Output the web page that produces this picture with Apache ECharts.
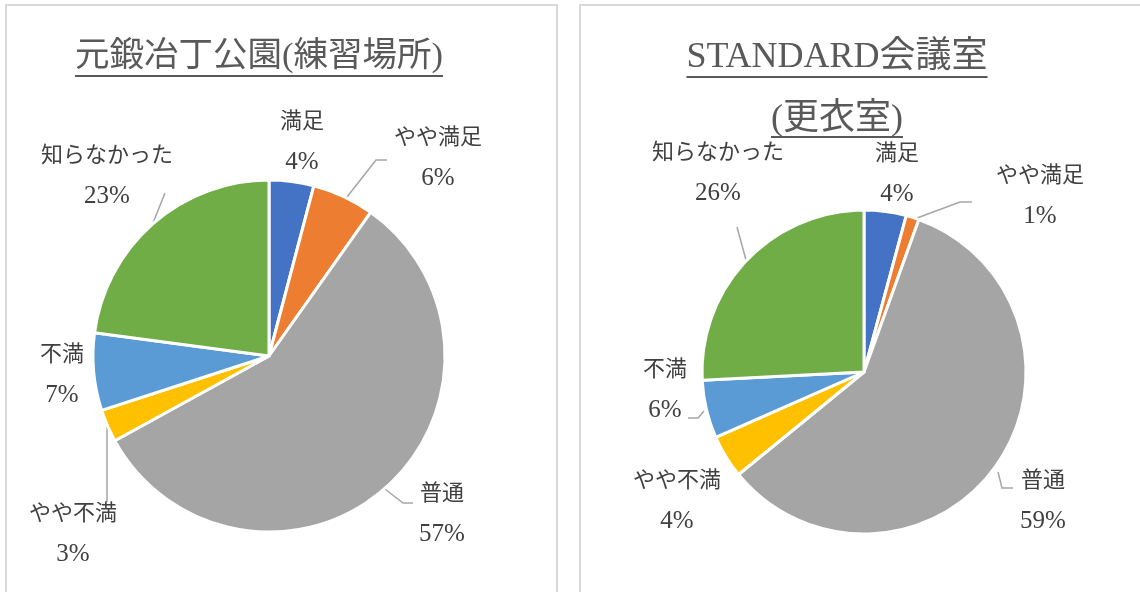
<!DOCTYPE html>
<html><head><meta charset="utf-8">
<script src="https://cdn.jsdelivr.net/npm/echarts@6/dist/echarts.min.js"></script>
<style>html,body{margin:0;padding:0;background:#fff}#c{width:1140px;height:592px}</style>
</head><body><div id="c"></div>
<script>
var categories = ['満足', 'やや満足', '普通', 'やや不満', '不満', '知らなかった'];
var leftValues = [4.1, 5.7, 57.2, 3.0, 7.1, 22.9];
var rightValues = [4.2, 1.3, 58.6, 4.3, 5.8, 25.8];
var leftTitle = '元鍛冶丁公園(練習場所)';
var rightTitleLines = ['STANDARD会議室', '(更衣室)'];

var colors = ['#4472C4', '#ED7D31', '#A5A5A5', '#FFC000', '#5B9BD5', '#70AD47'];
var FONT = '"Liberation Serif", "Noto Sans CJK JP", serif';

// label anchor positions (layout only)
var leftLabelPos = [[302, 142], [438, 158], [442, 514], [73, 534], [62, 375], [107, 176]];
var rightLabelPos = [[897, 174], [1040, 196], [1043, 501], [677, 501], [665, 390], [718, 173]];
// leader line shapes (layout only)
var leftLines = [null, [[347, 197], [376, 160], [387, 160]], [[385, 489], [403, 503], [413, 503]], [[107, 427], [107, 502]], null, [[153, 223], [165, 193]]];
var rightLines = [null, [[917, 218], [960, 202], [972, 202]], [[998, 472], [1002, 488], [1013, 488]], null, [[688, 418], [698, 418], [704, 411]], [[737, 227], [746, 260]]];

function measure(text, size) {
  var cv = document.createElement('canvas').getContext('2d');
  cv.font = size + 'px ' + FONT;
  return cv.measureText(text).width;
}

function mkData(vals, lines) {
  return categories.map(function (n, i) {
    var d = { name: n, value: vals[i], itemStyle: { color: colors[i] } };
    if (!lines[i]) d.labelLine = { show: false };
    return d;
  });
}

function mkSeries(vals, center, radius, pos, lines) {
  return {
    type: 'pie',
    center: center,
    radius: radius,
    startAngle: 90,
    clockwise: true,
    percentPrecision: 0,
    avoidLabelOverlap: false,
    animation: false,
    data: mkData(vals, lines),
    itemStyle: { borderColor: '#fff', borderWidth: 3 },
    label: {
      show: true,
      position: 'outside',
      overflow: 'none',
      formatter: '{n|{b}}\n{p|{d}%}',
      fontFamily: FONT,
      color: '#404040',
      align: 'center',
      rich: {
        n: { fontFamily: FONT, fontSize: 22, lineHeight: 40, color: '#404040' },
        p: { fontFamily: FONT, fontSize: 25, lineHeight: 40, color: '#404040' }
      }
    },
    labelLine: { show: true, length: 10, length2: 12, lineStyle: { color: '#A6A6A6', width: 1.5 } },
    labelLayout: function (p) {
      var q = pos[p.dataIndex];
      var r = { x: q[0], y: q[1], align: 'center', verticalAlign: 'middle' };
      if (lines[p.dataIndex]) r.labelLinePoints = lines[p.dataIndex];
      return r;
    },
    emphasis: { disabled: true }
  };
}

var graphics = [];
graphics.push({ type: 'rect', shape: { x: 6, y: 5, width: 551, height: 600 }, style: { fill: 'none', stroke: '#D9D9D9', lineWidth: 2 }, silent: true });
graphics.push({ type: 'rect', shape: { x: 580, y: 5, width: 580, height: 600 }, style: { fill: 'none', stroke: '#D9D9D9', lineWidth: 2 }, silent: true });

function addTitle(text, size, cx, cy, uy) {
  var w = measure(text, size);
  graphics.push({ type: 'text', x: cx, y: cy, style: { text: text, font: size + 'px ' + FONT, fill: '#595959', align: 'center', verticalAlign: 'middle' }, silent: true });
  graphics.push({ type: 'line', shape: { x1: cx - w / 2, y1: uy, x2: cx + w / 2, y2: uy }, style: { stroke: '#595959', lineWidth: 2 }, silent: true });
}
addTitle(leftTitle, 34.5, 259, 57, 76);
addTitle(rightTitleLines[0], 36, 837, 58, 77);
addTitle(rightTitleLines[1], 36, 837, 120, 137);

var chart = echarts.init(document.getElementById('c'), null, { renderer: 'canvas' });
chart.setOption({
  backgroundColor: '#fff',
  animation: false,
  graphic: graphics,
  series: [
    mkSeries(leftValues, [269, 356], 176, leftLabelPos, leftLines),
    mkSeries(rightValues, [864, 372], 162, rightLabelPos, rightLines)
  ]
});
</script></body></html>
